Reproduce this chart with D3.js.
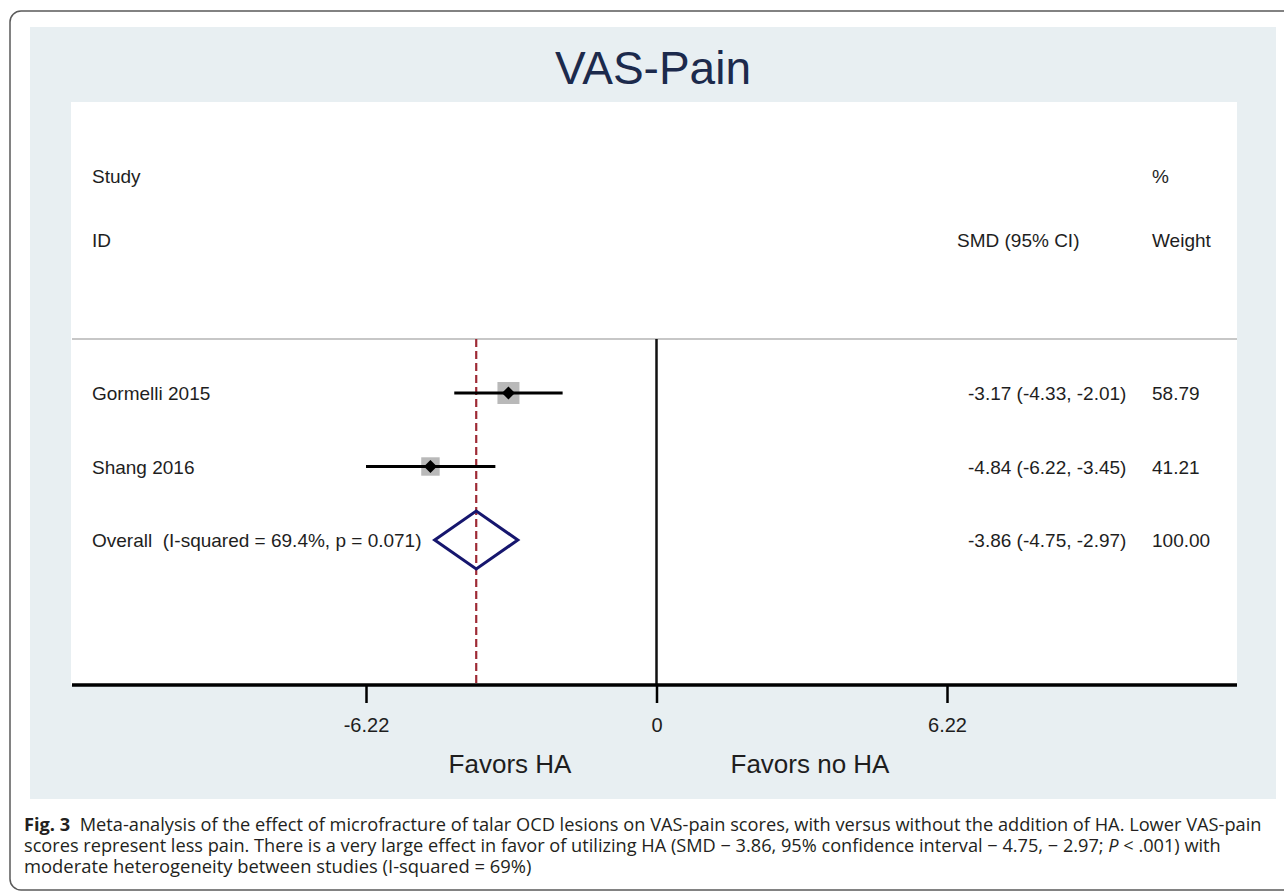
<!DOCTYPE html>
<html>
<head>
<meta charset="utf-8">
<script src="https://cdn.jsdelivr.net/npm/d3@7"></script>
<style>
  html, body { margin: 0; padding: 0; background: #ffffff; }
  svg { display: block; }
  text { white-space: pre; }
</style>
</head>
<body>
<svg id="chart" width="1284" height="892"></svg>
<script>
// ---- data ----
const studies = ["Gormelli 2015", "Shang 2016"];
const smd = [-3.17, -4.84];
const ciLow = [-4.33, -6.22];
const ciHigh = [-2.01, -3.45];
const weights = [58.79, 41.21];
const overallLabel = "Overall  (I-squared = 69.4%, p = 0.071)";
const overallSmd = -3.86;
const overallLow = -4.75;
const overallHigh = -2.97;
const overallWeight = 100.00;
const tickValues = [-6.22, 0, 6.22];
const tickLabels = ["-6.22", "0", "6.22"];
const title = "VAS-Pain";
const favorLabels = ["Favors HA", "Favors no HA"];
const captionLines = [
  [{t: "Fig. 3", b: true}, {t: "  Meta-analysis of the effect of microfracture of talar OCD lesions on VAS-pain scores, with versus without the addition of HA. Lower VAS-pain"}],
  [{t: "scores represent less pain. There is a very large effect in favor of utilizing HA (SMD \u2212 3.86, 95% confidence interval \u2212 4.75, \u2212 2.97; "}, {t: "P", i: true}, {t: " < .001) with"}],
  [{t: "moderate heterogeneity between studies (I-squared = 69%)"}]
];

// ---- layout ----
const svg = d3.select("#chart");
const font = "'Liberation Sans', Arial, sans-serif";
const txt = "#1e1e1e";
const loc = d3.formatLocale({decimal: ".", thousands: ",", grouping: [3], currency: ["", ""], minus: "-"});
const fmt2 = loc.format(".2f");

// outer frame (rounded, cut at right)
svg.append("rect").attr("x", 10).attr("y", 11).attr("width", 1320).attr("height", 879)
  .attr("rx", 11).attr("fill", "#fff").attr("stroke", "#5a5a5a").attr("stroke-width", 1.5);

// light panel
svg.append("rect").attr("x", 30).attr("y", 27).attr("width", 1246).attr("height", 772)
  .attr("fill", "#e8eff2");
// white plot area
svg.append("rect").attr("x", 71).attr("y", 102).attr("width", 1166).attr("height", 583)
  .attr("fill", "#ffffff");

// title
svg.append("text").attr("x", 653).attr("y", 84).attr("text-anchor", "middle")
  .attr("font-family", font).attr("font-size", 46).attr("fill", "#1c2a4c").text(title);

// scales
const x = d3.scaleLinear().domain([tickValues[0], tickValues[2]]).range([366, 947]);
const rowNames = studies.concat(["Overall"]);
const y = d3.scalePoint().domain(rowNames).range([393, 540]);
const plotTop = 339, axisY = 685;

// header texts
const hdr = [
  {t: "Study", x: 92, y: 183}, {t: "ID", x: 92, y: 247},
  {t: "%", x: 1152, y: 183}, {t: "SMD (95% CI)", x: 957, y: 247}, {t: "Weight", x: 1152, y: 247}
];
svg.selectAll("text.hdr").data(hdr).join("text").attr("class", "hdr")
  .attr("x", d => d.x).attr("y", d => d.y)
  .attr("font-family", font).attr("font-size", 19).attr("fill", txt).text(d => d.t);

// header separator
svg.append("line").attr("x1", 72).attr("x2", 1237).attr("y1", plotTop).attr("y2", plotTop)
  .attr("stroke", "#b4b4b4").attr("stroke-width", 1.5);

// zero line
svg.append("line").attr("x1", x(0)).attr("x2", x(0)).attr("y1", plotTop).attr("y2", axisY)
  .attr("stroke", "#111").attr("stroke-width", 2.5);

// overall dashed line
svg.append("line").attr("x1", x(overallSmd)).attr("x2", x(overallSmd)).attr("y1", plotTop).attr("y2", axisY)
  .attr("stroke", "#9e2a35").attr("stroke-width", 2.2).attr("stroke-dasharray", "8,4");

// study rows
const rows = studies.map((s, i) => ({name: s, est: smd[i], lo: ciLow[i], hi: ciHigh[i], w: weights[i]}));
const boxK = 22 / Math.sqrt(weights[0]);

const g = svg.append("g");
g.selectAll("rect.box").data(rows).join("rect").attr("class", "box")
  .attr("x", d => x(d.est) - boxK * Math.sqrt(d.w) / 2)
  .attr("y", d => y(d.name) - boxK * Math.sqrt(d.w) / 2)
  .attr("width", d => boxK * Math.sqrt(d.w))
  .attr("height", d => boxK * Math.sqrt(d.w))
  .attr("fill", "#b9b9b9");
g.selectAll("line.ci").data(rows).join("line").attr("class", "ci")
  .attr("x1", d => x(d.lo)).attr("x2", d => x(d.hi))
  .attr("y1", d => y(d.name)).attr("y2", d => y(d.name))
  .attr("stroke", "#000").attr("stroke-width", 3);
const dm = 6.5;
g.selectAll("path.pt").data(rows).join("path").attr("class", "pt")
  .attr("d", d => {
    const cx = x(d.est), cy = y(d.name);
    return `M${cx - dm},${cy}L${cx},${cy - dm}L${cx + dm},${cy}L${cx},${cy + dm}Z`;
  })
  .attr("fill", "#000");

// overall diamond
const oy = y("Overall"), dh = 29;
svg.append("path")
  .attr("d", `M${x(overallLow)},${oy}L${x(overallSmd)},${oy - dh}L${x(overallHigh)},${oy}L${x(overallSmd)},${oy + dh}Z`)
  .attr("fill", "none").attr("stroke", "#16166e").attr("stroke-width", 3).attr("stroke-linejoin", "miter");

// row labels
const labelRows = rows.map(d => ({
  name: d.name, label: d.name,
  ci: `${fmt2(d.est)} (${fmt2(d.lo)}, ${fmt2(d.hi)})`, w: fmt2(d.w)
})).concat([{
  name: "Overall", label: overallLabel,
  ci: `${fmt2(overallSmd)} (${fmt2(overallLow)}, ${fmt2(overallHigh)})`, w: fmt2(overallWeight)
}]);
const lab = svg.append("g").attr("font-family", font).attr("font-size", 19).attr("fill", txt);
lab.selectAll("text.nm").data(labelRows).join("text").attr("class", "nm")
  .attr("x", 92).attr("y", d => y(d.name) + 7).text(d => d.label);
lab.selectAll("text.ci").data(labelRows).join("text").attr("class", "ci")
  .attr("x", 968).attr("y", d => y(d.name) + 7).text(d => d.ci);
lab.selectAll("text.wt").data(labelRows).join("text").attr("class", "wt")
  .attr("x", 1152).attr("y", d => y(d.name) + 7).text(d => d.w);

// axis
const axis = d3.axisBottom(x).tickValues(tickValues).tickSize(18).tickFormat((d, i) => tickLabels[i]);
const ax = svg.append("g").attr("transform", `translate(0,${axisY})`).call(axis);
ax.select(".domain").remove();
ax.selectAll(".tick line").attr("stroke", "#000").attr("stroke-width", 2.5);
ax.selectAll(".tick text").attr("font-family", font).attr("font-size", 20).attr("fill", txt)
  .attr("y", 47).attr("dy", 0);
svg.append("line").attr("x1", 72).attr("x2", 1237).attr("y1", axisY).attr("y2", axisY)
  .attr("stroke", "#000").attr("stroke-width", 3.5);

// favors labels
svg.append("text").attr("x", 510).attr("y", 773).attr("text-anchor", "middle")
  .attr("font-family", font).attr("font-size", 26).attr("fill", txt).text(favorLabels[0]);
svg.append("text").attr("x", 810).attr("y", 773).attr("text-anchor", "middle")
  .attr("font-family", font).attr("font-size", 26).attr("fill", txt).text(favorLabels[1]);

// caption
const capBase = [831, 852, 873];
const capRight = [1262, 1222, 532];
const capLeft = 24;
captionLines.forEach((line, i) => {
  const t = svg.append("text").attr("x", 0).attr("y", 0)
    .attr("font-family", "'Open Sans', 'Noto Sans', sans-serif").attr("font-size", 17.5)
    .attr("fill", "#231f20");
  line.forEach(seg => {
    const ts = t.append("tspan").text(seg.t);
    if (seg.b) ts.attr("font-weight", "bold");
    if (seg.i) ts.attr("font-style", "italic");
  });
  const w = t.node().getComputedTextLength();
  const s = (capRight[i] - capLeft) / w;
  t.attr("transform", `translate(${capLeft},${capBase[i]}) scale(${s},1)`);
});
</script>
</body>
</html>
